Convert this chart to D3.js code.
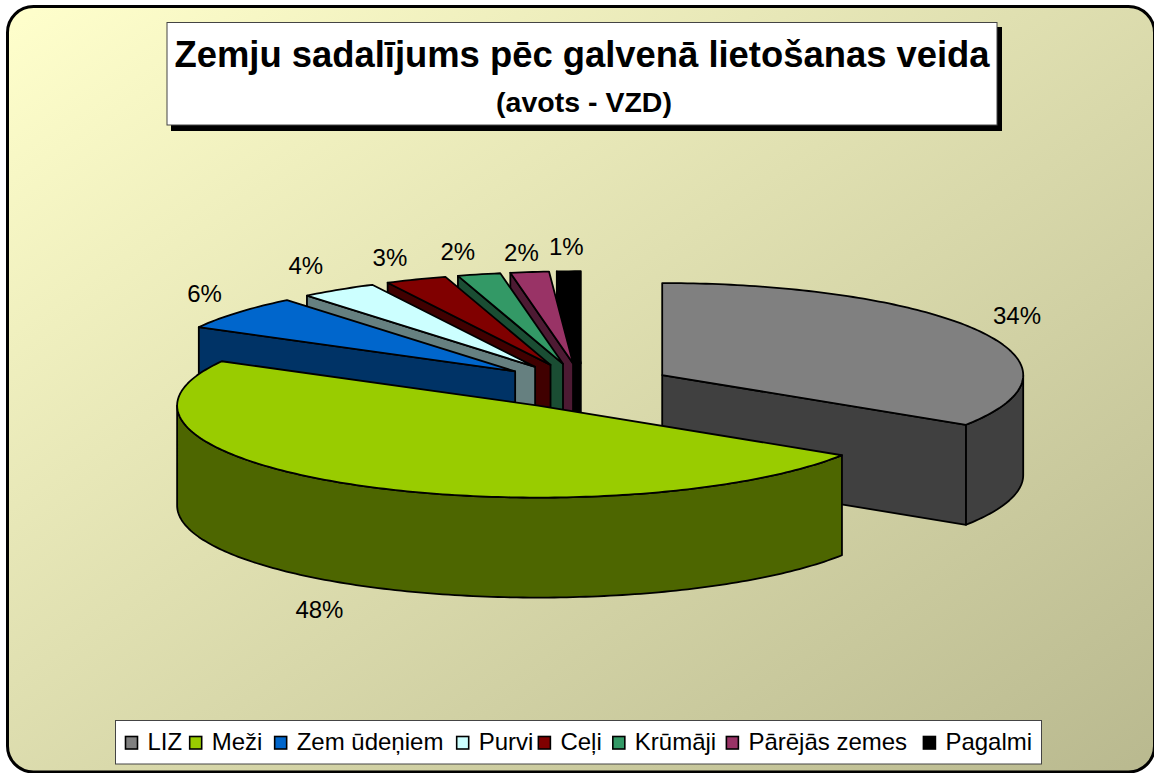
<!DOCTYPE html>
<html><head><meta charset="utf-8">
<script src="https://cdn.jsdelivr.net/npm/d3@7"></script>
<style>html,body{margin:0;padding:0;background:#fff;overflow:hidden}svg{display:block}text{font-family:"Liberation Sans",Arial,sans-serif;fill:#000}</style>
</head><body><svg id="c" width="1154" height="773"></svg>
<script>
const titleMain = "Zemju sadalījums pēc galvenā lietošanas veida";
const titleSub = "(avots - VZD)";
const categories = ["LIZ","Meži","Zem ūdeņiem","Purvi","Ceļi","Krūmāji","Pārējās zemes","Pagalmi"];
const values = [34.08,48.92,6.11,3.44,2.75,1.92,1.72,1.06];
const percentLabels = ["34%","48%","6%","4%","3%","2%","2%","1%"];
const topColors = ["#808080","#99CC00","#0066CC","#CCFFFF","#800000","#339966","#993366","#000000"];
const sideColors = ["#404040","#4D6600","#003366","#668080","#400000","#1A4D33","#4D1A33","#000000"];
const drawOrder = [7,6,5,4,3,2,0,1];
const labelNudgeX = [0,-12,0,-9,-10,-11,-3,-1];
const labelNudgeY = [-5,5,-4,-5,-1,-1,3,-2];
const legendGaps = [7.5,12.3,13.3,5,11.1,10.2,16.3,0];

const W=1154,H=773,cx=583.8,cy=386,rx=361,ry=92,depth=100,explode=0.2475;
const svg=d3.select("#c");
const defs=svg.append("defs");
const g=defs.append("linearGradient").attr("id","bg").attr("x1",0).attr("y1",0).attr("x2",1).attr("y2",1);
g.append("stop").attr("offset",0).attr("stop-color","#FFFFCC");
g.append("stop").attr("offset",1).attr("stop-color","#B9B98F");

svg.append("rect").attr("x",7.5).attr("y",6.5).attr("width",1147).attr("height",765.5).attr("rx",26).attr("ry",26)
  .attr("fill","url(#bg)").attr("stroke","#000").attr("stroke-width",3);

// title
svg.append("rect").attr("x",171).attr("y",27).attr("width",831).attr("height",104).attr("fill","#000");
svg.append("rect").attr("x",167).attr("y",22.5).attr("width",830).attr("height",102.5).attr("fill","#fff").attr("stroke","#444").attr("stroke-width",1);
svg.append("text").attr("x",582).attr("y",67).attr("text-anchor","middle").attr("font-weight","bold").attr("font-size",36.4)
  .attr("id","t1").text(titleMain);
svg.append("text").attr("x",584).attr("y",112).attr("text-anchor","middle").attr("font-weight","bold").attr("font-size",28.5)
  .attr("id","t2").text(titleSub);

// pie
const x=d3.scaleLinear().domain([-1,1]).range([cx-rx,cx+rx]);
const y=d3.scaleLinear().domain([-1,1]).range([cy-ry,cy+ry]);
const line=d3.line().x(d=>x(d[0])).y(d=>y(d[1])+(d[2]||0));
const arcs=d3.pie().sort(null).value(d=>d)(values);
const TAU=2*Math.PI, stepA=TAU/360;
function sample(a0,a1,ox,oy,dz){
  const n=Math.max(2,Math.ceil((a1-a0)/stepA));
  return d3.range(n+1).map(i=>{const a=a0+(a1-a0)*i/n;return [ox+Math.sin(a),oy-Math.cos(a),dz];});
}
const pie=svg.append("g").attr("stroke","#000").attr("stroke-width",1.8).attr("stroke-linejoin","round");
drawOrder.forEach(i=>{
  const d=arcs[i],a0=d.startAngle,a1=d.endAngle,b=(a0+a1)/2;
  const ox=explode*Math.sin(b),oy=-explode*Math.cos(b);
  const wall=(a,fill)=>pie.append("path").attr("fill",fill).attr("d",line([[ox,oy,0],[ox+Math.sin(a),oy-Math.cos(a),0],[ox+Math.sin(a),oy-Math.cos(a),depth],[ox,oy,depth]])+"Z");
  if(a0>Math.PI && a0<TAU) wall(a0,sideColors[i]);
  if(a1>0 && a1<Math.PI) wall(a1,sideColors[i]);
  const lo=Math.max(a0,Math.PI/2),hi=Math.min(a1,1.5*Math.PI);
  if(hi>lo){
    const top=sample(lo,hi,ox,oy,0), bot=sample(lo,hi,ox,oy,depth).reverse();
    pie.append("path").attr("fill",sideColors[i]).attr("d",line(top.concat(bot))+"Z");
  }
  pie.append("path").attr("fill",topColors[i]).attr("d",line([[ox,oy,0]].concat(sample(a0,a1,ox,oy,0)))+"Z");
});
// percent labels
arcs.forEach((d,i)=>{
  const b=(d.startAngle+d.endAngle)/2;
  const ox=explode*Math.sin(b),oy=-explode*Math.cos(b);
  const lx=x(ox+1.12*Math.sin(b))+labelNudgeX[i];
  const ly=y(oy-1.25*Math.cos(b))+(Math.cos(b)<0?depth:0)+labelNudgeY[i];
  svg.append("text").attr("x",lx).attr("y",ly).attr("dy","0.36em").attr("text-anchor","middle").attr("font-size",24).text(percentLabels[i]);
});
// legend
svg.append("rect").attr("x",115.5).attr("y",720.5).attr("width",926).attr("height",43.5).attr("fill","#fff").attr("stroke","#444").attr("stroke-width",1);
let lx=125.5;
categories.forEach((c,i)=>{
  svg.append("rect").attr("x",lx).attr("y",736.5).attr("width",12).attr("height",12.5).attr("fill",topColors[i]).attr("stroke","#000").attr("stroke-width",1.6);
  const t=svg.append("text").attr("x",lx+22).attr("y",749.5).attr("font-size",24).text(c);
  lx+=22+t.node().getComputedTextLength()+legendGaps[i];
});
</script></body></html>
